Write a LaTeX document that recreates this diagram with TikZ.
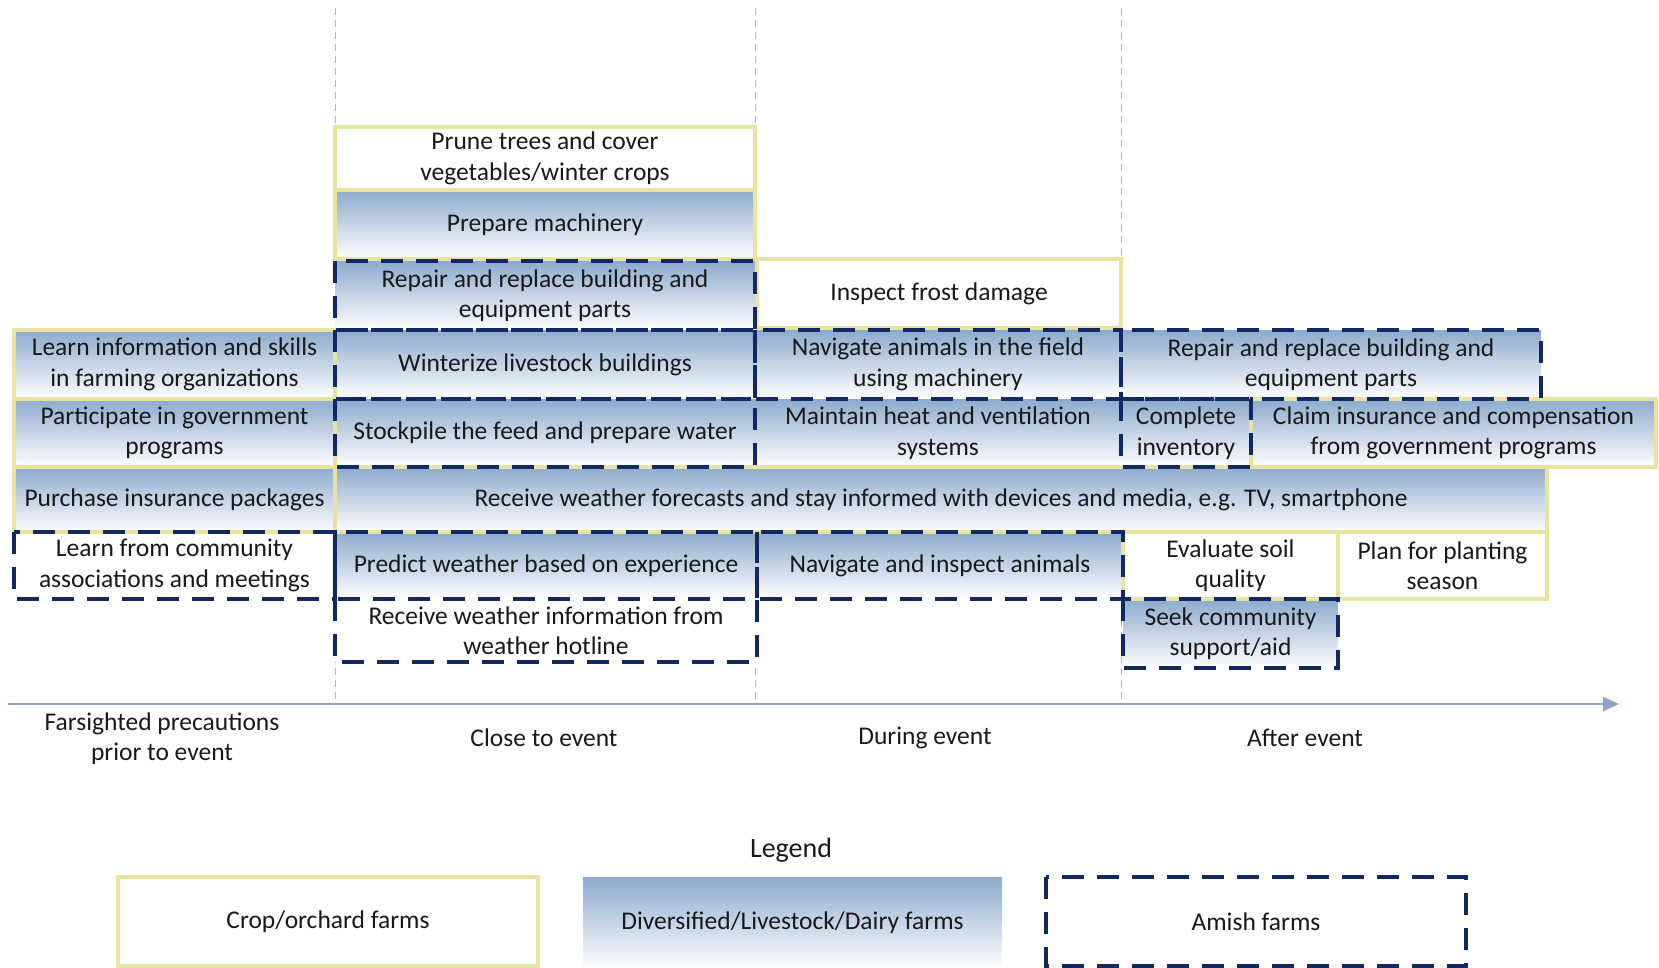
\documentclass[tikz,border=0pt]{standalone}
\usepackage{fontspec}
\setmainfont{Carlito}
\usetikzlibrary{arrows.meta}
\definecolor{gradtop}{RGB}{141,170,205}
\definecolor{cropyel}{RGB}{232,228,160}
\definecolor{amishnavy}{RGB}{18,40,98}
\definecolor{guide}{RGB}{165,185,200}
\definecolor{axiscol}{RGB}{140,165,198}
\definecolor{txt}{RGB}{25,25,25}
\newcommand\cellnode[7]{%
  \pgfmathsetmacro\bxw{#5-#3}\pgfmathsetmacro\bxh{#6-#4}%
  \pgfmathsetmacro\bxx{(#3+#5)/2}\pgfmathsetmacro\bxy{(#4+#6)/2}%
  \node[cell,#1,minimum width=\bxw pt,minimum height=\bxh pt] (#2) at (\bxx,\bxy) {#7};}
\begin{document}
\begin{tikzpicture}[x=1pt,y=-1pt,
 cell/.style={inner sep=0pt, outer sep=0pt, align=center, text=txt, font=\fontsize{25.5}{30.5}\selectfont},
 div/.style={top color=gradtop, bottom color=white},
 plain/.style={fill=white},
 cropline/.style={draw=cropyel, line width=3.5pt},
 amishline/.style={draw=amishnavy, line width=3.5pt, dash pattern=on 22pt off 13pt},
 guideline/.style={draw=guide, line width=1pt, dash pattern=on 7pt off 5pt},
 axisline/.style={draw=axiscol, line width=2.5pt},
 lbl/.style={align=center, text=txt, font=\fontsize{25.5}{30.5}\selectfont}]
\useasboundingbox (0,0) rectangle (1659,968);

% guide lines
\coordinate (g1t) at (335,8);  \coordinate (g1b) at (335,704);
\coordinate (g2t) at (755,8);  \coordinate (g2b) at (755,704);
\coordinate (g3t) at (1121,8); \coordinate (g3b) at (1121,704);
\draw[guideline] (g1t) -- (g1b);
\draw[guideline] (g2t) -- (g2b);
\draw[guideline] (g3t) -- (g3b);

% axis
\coordinate (axs) at (8,704);
\coordinate (axe) at (1619,704);
\draw[axisline, -{Triangle[length=16pt,width=14pt]}] (axs) -- (axe);

% cells (centres nudged 2.5 down for the text)
\cellnode{plain}{prune}{335}{127}{755}{190}{Prune trees and cover\\vegetables/winter crops}
\cellnode{div}{prep}{335}{190}{755}{259}{Prepare machinery}
\cellnode{div}{rep1}{335}{261}{755}{330}{Repair and replace building and\\equipment parts}
\cellnode{plain}{frost}{757}{259}{1121}{328}{Inspect frost damage}

\cellnode{div}{learn}{14}{330}{335}{399}{Learn information and skills\\in farming organizations}
\cellnode{div}{wint}{335}{330}{755}{399}{Winterize livestock buildings}
\cellnode{div}{navf}{755}{330}{1121}{399}{Navigate animals in the field\\using machinery}
\cellnode{div}{rep2}{1121}{330}{1541}{399}{Repair and replace building and\\equipment parts}

\cellnode{div}{part}{14}{399}{335}{467}{Participate in government\\programs}
\cellnode{div}{stock}{335}{399}{755}{467}{Stockpile the feed and prepare water}
\cellnode{div}{heat}{755}{399}{1121}{467}{Maintain heat and ventilation\\systems}
\cellnode{div}{inv}{1121}{399}{1251}{467}{Complete\\inventory}
\cellnode{div}{claim}{1251}{399}{1656}{467}{Claim insurance and compensation\\from government programs}

\cellnode{div}{purch}{14}{467}{335}{532}{Purchase insurance packages}
\cellnode{div}{fore}{335}{467}{1547}{532}{Receive weather forecasts and stay informed with devices and media, e.g. TV, smartphone}

\cellnode{plain}{lcom}{14}{532}{335}{599}{Learn from community\\associations and meetings}
\cellnode{div}{pred}{335}{532}{757}{599}{Predict weather based on experience}
\cellnode{div}{navi}{757}{532}{1123}{599}{Navigate and inspect animals}
\cellnode{plain}{soil}{1123}{532}{1338}{599}{Evaluate soil\\quality}
\cellnode{plain}{plan}{1338}{532}{1547}{599}{Plan for planting\\season}

\cellnode{plain}{hot}{335}{599}{757}{662}{Receive weather information from\\weather hotline}
\cellnode{div}{seek}{1123}{599}{1338}{668}{Seek community\\support/aid}

% axis labels
\node[lbl] (t1) at (162,738.5) {Farsighted precautions\\prior to event};
\node[lbl] (t2) at (544,738) {Close to event};
\node[lbl] (t3) at (925,738) {During event};
\node[lbl] (t4) at (1305,738) {After event};

% legend
\node[lbl, font=\fontsize{28}{32}\selectfont] (leg) at (791,850) {Legend};
\cellnode{plain}{lcrop}{118}{877}{538}{966}{Crop/orchard farms}
\cellnode{div}{ldiv}{583}{877}{1002}{968}{Diversified/Livestock/Dairy farms}
\cellnode{plain}{lamish}{1046}{877}{1466}{966}{Amish farms}

% crop borders
\foreach \n in {prune,prep,frost,learn,part,claim,purch,fore,soil,plan,lcrop}
  \draw[cropline] (\n.north west) rectangle (\n.south east);
% amish borders
\foreach \n in {rep1,wint,navf,rep2,stock,inv,lcom,pred,navi,hot,seek,lamish}
  \draw[amishline] (\n.north west) rectangle (\n.south east);
\end{tikzpicture}
\end{document}
